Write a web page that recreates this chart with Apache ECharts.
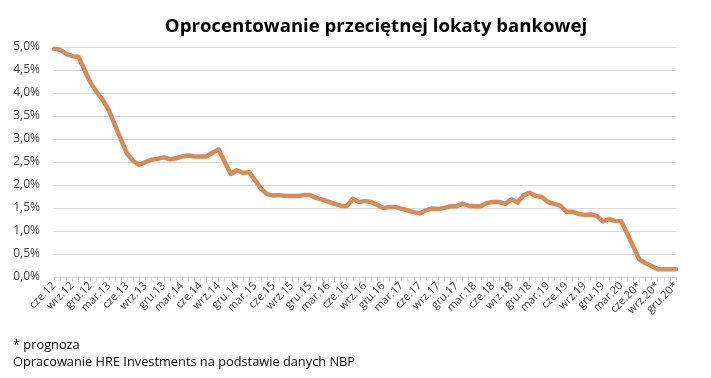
<!DOCTYPE html>
<html>
<head>
<meta charset="utf-8">
<script src="https://cdn.jsdelivr.net/npm/echarts@6/dist/echarts.min.js"></script>
<style>
html,body{margin:0;padding:0;background:#fff;}
#c{width:711px;height:378px;}
</style>
</head>
<body>
<div id="c"></div>
<script>
const monthNames = ['sty','lut','mar','kwi','maj','cze','lip','sie','wrz','paź','lis','gru'];
const startYear = 2012, startMonth = 5; // cze.12
const forecastFrom = '2020-06';
const rates = [
  4.96,4.94,4.85,4.80,4.79,4.50,4.22,4.02,3.85,3.62,3.30,2.98,
  2.68,2.52,2.44,2.50,2.55,2.57,2.60,2.56,2.58,2.62,2.64,2.62,
  2.62,2.62,2.70,2.77,2.50,2.24,2.32,2.26,2.28,2.10,1.91,1.80,
  1.77,1.78,1.76,1.76,1.76,1.78,1.78,1.72,1.68,1.64,1.59,1.55,
  1.54,1.70,1.63,1.65,1.63,1.57,1.50,1.52,1.52,1.48,1.45,1.41,
  1.38,1.45,1.49,1.48,1.50,1.54,1.54,1.59,1.55,1.54,1.54,1.61,
  1.63,1.63,1.59,1.69,1.62,1.78,1.83,1.76,1.74,1.63,1.59,1.55,
  1.42,1.42,1.37,1.35,1.36,1.33,1.21,1.26,1.22,1.21,0.94,0.66,
  0.38,0.30,0.24,0.17,0.17,0.17,0.17
];
const categories = rates.map((_, i) => {
  const m = (startMonth + i) % 12;
  const y = startYear + Math.floor((startMonth + i) / 12);
  const key = y + '-' + String(m + 1).padStart(2, '0');
  return monthNames[m] + '.' + String(y).slice(2) + (key >= forecastFrom ? '*' : '');
});
const title = 'Oprocentowanie przeciętnej lokaty bankowej';
const notes = ['* prognoza', 'Opracowanie HRE Investments na podstawie danych NBP'];

const chart = echarts.init(document.getElementById('c'), null, {renderer: 'canvas'});
chart.setOption({
  animation: false,
  backgroundColor: '#ffffff',
  title: {
    text: title, left: 371, top: 12, textAlign: 'center',
    textStyle: {fontFamily: 'Open Sans', fontWeight: 'bold', fontSize: 18.6, color: '#000'}
  },
  graphic: [
    {type: 'text', left: 13, top: 339, style: {text: notes[0], font: '12.8px "Open Sans"', fill: '#000'}},
    {type: 'text', left: 13, top: 356, style: {text: notes[1], font: '12.8px "Open Sans"', fill: '#000'}}
  ],
  grid: {left: 54, right: 35, top: 47, bottom: 101, containLabel: false},
  xAxis: {
    type: 'category', data: categories, boundaryGap: false,
    axisLine: {lineStyle: {color: '#d9d9d9', width: 1}},
    axisTick: {show: true, interval: 0, length: 5, lineStyle: {color: '#d9d9d9'}},
    axisLabel: {interval: 2, rotate: 45, fontFamily: 'Open Sans', fontSize: 11, color: '#404040', margin: 7},
    splitLine: {show: false}
  },
  yAxis: {
    type: 'value', min: 0, max: 5, interval: 0.5,
    axisLine: {show: false}, axisTick: {show: false},
    axisLabel: {fontFamily: 'Open Sans', fontSize: 12, color: '#404040', margin: 14,
      formatter: v => v.toFixed(1).replace('.', ',') + '%'},
    splitLine: {lineStyle: {color: '#d9d9d9', width: 1}}
  },
  series: [{
    type: 'line', data: rates, symbol: 'none', smooth: false,
    lineStyle: {color: '#d58b5a', width: 4.5, cap: 'round', join: 'round'}
  }]
});
</script>
</body>
</html>
